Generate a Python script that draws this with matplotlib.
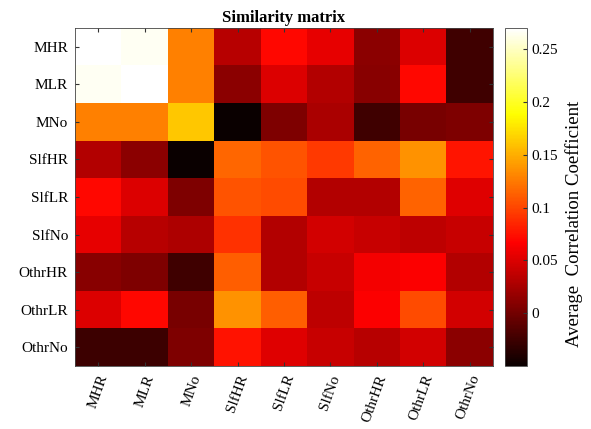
import numpy as np
import matplotlib
matplotlib.use("Agg")
import matplotlib.pyplot as plt

plt.rcParams['font.family'] = ['Liberation Serif', 'DejaVu Serif']

labels = ['MHR', 'MLR', 'MNo', 'SlfHR', 'SlfLR', 'SlfNo', 'OthrHR', 'OthrLR', 'OthrNo']

row_mhr = [0.270, 0.265, 0.128, 0.033, 0.070, 0.055, 0.012, 0.051, -0.024]
row_mlr = [0.265, 0.270, 0.128, 0.012, 0.051, 0.030, 0.010, 0.071, -0.024]
row_mno = [0.128, 0.128, 0.162, -0.049, 0.006, 0.027, -0.024, 0.003, 0.006]
row_slfhr = [0.030, 0.012, -0.049, 0.116, 0.107, 0.094, 0.114, 0.137, 0.077]
row_slflr = [0.071, 0.051, 0.005, 0.107, 0.103, 0.030, 0.030, 0.114, 0.052]
row_slfno = [0.055, 0.033, 0.028, 0.091, 0.030, 0.045, 0.040, 0.035, 0.040]
row_othrhr = [0.010, 0.005, -0.025, 0.112, 0.030, 0.040, 0.062, 0.066, 0.030]
row_othrlr = [0.051, 0.071, 0.003, 0.137, 0.112, 0.035, 0.066, 0.103, 0.045]
row_othrno = [-0.026, -0.026, 0.005, 0.075, 0.052, 0.040, 0.033, 0.045, 0.012]

cbar_ticks = [0, 0.05, 0.1, 0.15, 0.2, 0.25]
cbar_ticklabels = ['0', '0.05', '0.1', '0.15', '0.2', '0.25']

data = np.array([row_mhr, row_mlr, row_mno, row_slfhr, row_slflr,
                 row_slfno, row_othrhr, row_othrlr, row_othrno])

fig = plt.figure(figsize=(5.91, 4.29), dpi=100)
ax = fig.add_axes([75 / 591, 1 - 366 / 429, 418 / 591, 338 / 429])
cax = fig.add_axes([505 / 591, 1 - 366 / 429, 22 / 591, 338 / 429])

im = ax.imshow(data, cmap='hot', vmin=-0.05, vmax=0.27, aspect='auto',
               interpolation='nearest')

ax.set_xticks(range(len(labels)))
ax.set_yticks(range(len(labels)))
ax.set_xticklabels(labels, rotation=70, ha='right', rotation_mode='anchor', fontsize=11)
ax.set_yticklabels(labels, fontsize=11)
ax.tick_params(direction='in', top=True, right=True, length=3, color='#333333', pad=5)
for s in ax.spines.values():
    s.set_color('#444444')
    s.set_linewidth(0.6)
ax.set_title('Similarity matrix', fontsize=12, fontweight='bold', pad=4)

cb = fig.colorbar(im, cax=cax)
cb.set_ticks(cbar_ticks)
cb.set_ticklabels(cbar_ticklabels)
cb.ax.tick_params(direction='in', length=3, labelsize=11, color='#333333')
cb.outline.set_edgecolor('#444444')
cb.outline.set_linewidth(0.6)
cb.set_label('Average  Correlation Coefficient', fontsize=13.5, labelpad=5)
cb.ax.yaxis.label.set_y(0.42)

fig.savefig('out.png', dpi=100)
